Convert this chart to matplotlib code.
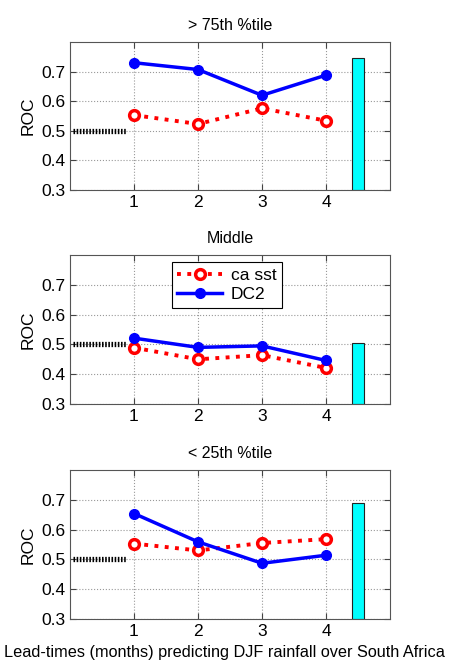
import numpy as np
import matplotlib.pyplot as plt

plt.rcParams['font.family'] = ['Liberation Sans', 'DejaVu Sans']

leads = [1, 2, 3, 4]
titles = ['> 75th %tile', 'Middle', '< 25th %tile']
ca_sst = [[0.553, 0.523, 0.576, 0.534],
          [0.489, 0.450, 0.464, 0.421],
          [0.553, 0.530, 0.555, 0.568]]
dc2 = [[0.730, 0.707, 0.620, 0.688],
       [0.521, 0.490, 0.495, 0.446],
       [0.654, 0.559, 0.487, 0.514]]
bar_vals = [0.745, 0.506, 0.689]
climatology = 0.5

fig = plt.figure(figsize=(4.52, 6.62), dpi=100)
W, H = 452, 662
# axes boxes in pixels: left, top, right, bottom
boxes = [(70, 42, 390, 190), (70, 255, 390, 404), (70, 470, 390, 619)]

for i, (l, t, r, b) in enumerate(boxes):
    ax = fig.add_axes([l / W, 1 - b / H, (r - l) / W, (b - t) / H])
    ax.plot([0.05, 0.88], [climatology, climatology], color='black', ls=(0, (0.3, 0.3)), lw=3.8, zorder=3)
    ax.plot(leads, ca_sst[i], color='red', ls=':', lw=2.8, marker='o', ms=7,
            mfc='white', mec='red', mew=2.5, label='ca sst', zorder=4)
    ax.plot(leads, dc2[i], color='blue', ls='-', lw=2.5, marker='o', ms=7,
            mfc='blue', mec='blue', label='DC2', zorder=5)
    ax.bar(4.5, bar_vals[i] - 0.3, bottom=0.3, width=0.2, color='cyan', edgecolor='#222222', lw=0.8, zorder=2)
    ax.set_xlim(0, 5)
    ax.set_ylim(0.3, 0.8)
    ax.set_xticks(leads)
    ax.set_yticks([0.3, 0.4, 0.5, 0.6, 0.7])
    ax.set_yticklabels(['0.3', '0.4', '0.5', '0.6', '0.7'])
    ax.grid(True, color='#999999', ls=':', lw=0.8)
    ax.set_axisbelow(True)
    ax.tick_params(direction='in', top=True, right=True, labelsize=12.5, length=4, color='#444444')
    for s in ax.spines.values():
        s.set_color('#555555')
        s.set_linewidth(0.8)
    ax.set_ylabel('ROC', fontsize=12.5)
    ax.set_title(titles[i], fontsize=11.5, pad=9)
    if i == 1:
        leg = ax.legend(loc='upper center', bbox_to_anchor=(0.49, 0.95), borderaxespad=0, fontsize=12.5,
                        fancybox=False, framealpha=1, edgecolor='black',
                        handlelength=2.6, borderpad=0.3, labelspacing=0.25, handletextpad=0.5)
        leg.get_frame().set_linewidth(0.8)

# shared x label, centred on the figure like the original
fig.text(0.497, 1 - 653 / H, 'Lead-times (months) predicting DJF rainfall over South Africa',
         ha='center', va='center', fontsize=11.7)

fig.savefig('out.png', dpi=100)
